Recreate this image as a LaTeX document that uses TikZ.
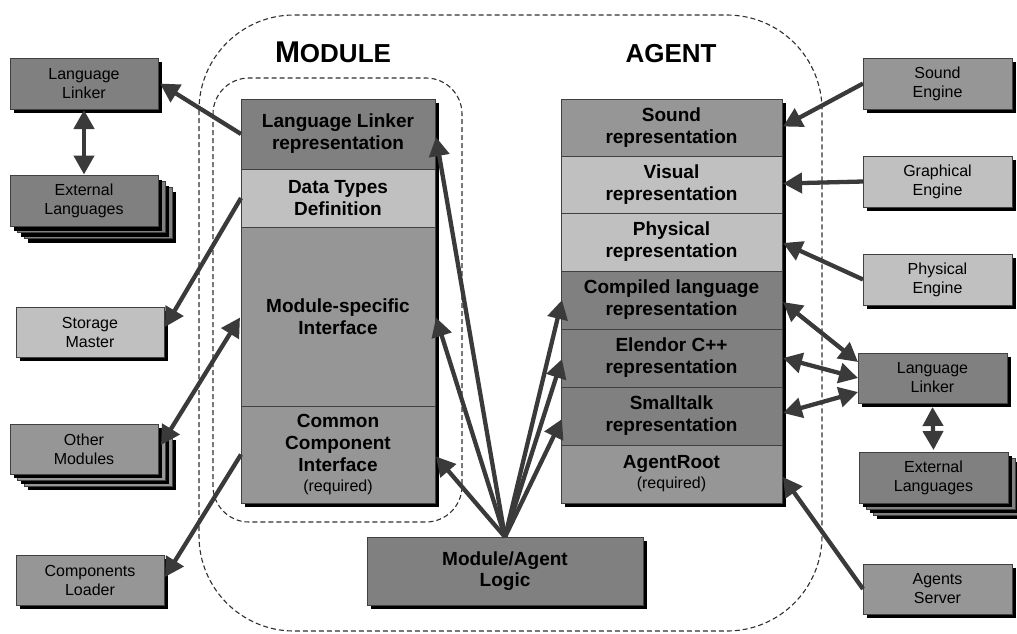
\documentclass[tikz,border=0pt]{standalone}
\usepackage{fontspec}
\setmainfont{Liberation Sans}
\usetikzlibrary{arrows.meta,shadows,calc}

\definecolor{cdark}{HTML}{808080}
\definecolor{cmid}{HTML}{969696}
\definecolor{clight}{HTML}{C0C0C0}
\definecolor{bordercol}{HTML}{404040}
\definecolor{cline}{HTML}{3A3A3A}
\definecolor{dashcol}{HTML}{303030}
\newcommand\reqfont{\mdseries\fontsize{16}{19}\selectfont}

\begin{document}
\begin{tikzpicture}[x=1pt,y=-1pt,
  boxbase/.style={draw=bordercol, line width=0.9pt, inner sep=0pt, outer sep=0pt, align=center},
  shadowed/.style={general shadow={fill=black, shadow xshift=4pt, shadow yshift=-4pt}},
  layered/.style={
    general shadow={fill=black, shadow xshift=18pt, shadow yshift=-16pt},
    general shadow={fill=#1, draw=bordercol, line width=0.9pt, shadow xshift=14pt, shadow yshift=-12pt},
    general shadow={fill=black, shadow xshift=11pt, shadow yshift=-10pt},
    general shadow={fill=#1, draw=bordercol, line width=0.9pt, shadow xshift=7pt, shadow yshift=-6pt}},
  sidefont/.style={font=\fontsize{16}{19}\selectfont},
  side/.style={boxbase, shadowed, sidefont, fill=#1, minimum width=148pt, minimum height=51pt},
  sidestack/.style={boxbase, layered=#1, shadowed, sidefont, fill=#1, minimum width=148pt, minimum height=51pt},
  row/.style={boxbase, shadowed, anchor=north west, font=\fontsize{19}{22}\selectfont\bfseries},
  dashline/.style={draw=dashcol, line width=1.1pt, dash pattern=on 5pt off 3pt},
  conn/.style={draw=cline, line width=4.3pt, -{Triangle[length=19pt,width=20pt]}},
  biconn/.style={draw=cline, line width=4.3pt, {Triangle[length=19pt,width=20pt]}-{Triangle[length=19pt,width=20pt]}}
]
\useasboundingbox (0,0) rectangle (1017,633);

% dashed outlines: whole component and module part
\draw[dashline, rounded corners=95pt] (199,15) rectangle (822,631);
\draw[dashline, rounded corners=36pt] (213,78) rectangle (462,522);

% titles
\node[anchor=base, font=\bfseries] (tmod) at (333,62)
  {{\fontsize{30}{30}\selectfont M}{\fontsize{26}{30}\selectfont ODULE}};
\node[anchor=base, font=\bfseries\fontsize{26}{30}\selectfont] (tagt) at (671,62) {AGENT};

% module stack
\node[row, fill=cdark,  minimum width=194pt, minimum height=70pt]  (mLL) at (241,99)  {Language Linker\\representation};
\node[row, fill=clight, minimum width=194pt, minimum height=58pt]  (mDT) at (241,169) {Data Types\\Definition};
\node[row, fill=cmid,   minimum width=194pt, minimum height=179pt] (mMS) at (241,227) {Module-specific\\Interface};
\node[row, fill=cmid,   minimum width=194pt, minimum height=97pt]  (mCC) at (241,406)
  {Common\\Component\\Interface\\[-2pt]{\reqfont (required)}};

% agent stack
\node[row, fill=cmid,   minimum width=221pt, minimum height=57pt] (aSR) at (561,99)  {Sound\\representation};
\node[row, fill=clight, minimum width=221pt, minimum height=57pt] (aVR) at (561,156) {Visual\\representation};
\node[row, fill=clight, minimum width=221pt, minimum height=58pt] (aPR) at (561,213) {Physical\\representation};
\node[row, fill=cdark,  minimum width=221pt, minimum height=58pt] (aCL) at (561,271) {Compiled language\\representation};
\node[row, fill=cdark,  minimum width=221pt, minimum height=58pt] (aEC) at (561,329) {Elendor C++\\representation};
\node[row, fill=cdark,  minimum width=221pt, minimum height=58pt] (aST) at (561,387) {Smalltalk\\representation};
\node[row, fill=cmid,   minimum width=221pt, minimum height=58pt] (aAR) at (561,445)
  {AgentRoot\\[-2pt]{\reqfont (required)}};

% logic
\node[boxbase, shadowed, fill=cdark, minimum width=276pt, minimum height=68pt,
      font=\fontsize{19}{21}\selectfont\bfseries] (logic) at (505,571) {Module/Agent\\Logic};

% left side
\node[side=cdark]       (lll) at (84,83.5)  {Language\\Linker};
\node[sidestack=cdark]  (lel) at (84,201)   {External\\Languages};
\node[side=clight, minimum height=50pt] (sm) at (90,332) {Storage\\Master};
\node[sidestack=cmid, minimum height=50pt] (om) at (84,449) {Other\\Modules};
\node[side=cmid, minimum height=50pt]   (cl) at (90,580) {Components\\Loader};

% right side
\node[side=cmid,   minimum width=149pt] (se)  at (937.5,83.5)  {Sound\\Engine};
\node[side=clight, minimum width=149pt] (ge)  at (937.5,181.5) {Graphical\\Engine};
\node[side=clight, minimum width=149pt] (pe)  at (937.5,279.5) {Physical\\Engine};
\node[side=cdark,  minimum width=149pt, minimum height=50pt] (rll) at (932.5,378) {Language\\Linker};
\node[sidestack=cdark, minimum width=149pt] (rel) at (933.5,477.5) {External\\Languages};
\node[side=cmid,   minimum width=149pt, minimum height=50pt] (as)  at (937.5,589) {Agents\\Server};

% module connections
\draw[conn]   (mLL.west) -- ($(lll.east)+(2,0)$);
\draw[biconn] ($(lll.south)+(0,1)$) -- ($(lel.north)+(0,-1)$);
\draw[conn]   (mDT.west) -- ($(sm.east)+(1,-5)$);
\draw[biconn] ($(om.east)+(3,-4)$) -- ($(mMS.west)+(-1,1)$);
\draw[conn]   (mCC.west) -- ($(cl.east)+(1,-3)$);

% logic fan
\draw[conn] (logic.north) -- ($(mLL.east)+(1,3)$);
\draw[conn] (logic.north) -- ($(mMS.east)+(1,1)$);
\draw[conn] (logic.north) -- ($(mCC.east)+(1,2)$);
\draw[conn] (logic.north) -- ($(aCL.west)+(1,0)$);
\draw[conn] (logic.north) -- ($(aEC.west)+(1,1)$);
\draw[conn] (logic.north) -- ($(aST.west)+(1,3)$);

% agent connections
\draw[conn]   (se.west) -- ($(aSR.east)+(1,-1)$);
\draw[conn]   (ge.west) -- ($(aVR.east)+(1,-1)$);
\draw[conn]   (pe.west) -- ($(aPR.east)+(1,1)$);
\draw[biconn] ($(aCL.east)+(1,2)$) -- ($(rll.west)+(0,-16)$);
\draw[biconn] ($(aEC.east)+(1,0)$) -- (rll.west);
\draw[biconn] ($(aST.east)+(1,-3)$) -- ($(rll.west)+(0,14)$);
\draw[biconn] ($(rll.south)+(0,4)$) -- ($(rel.north)+(0,-2)$);
\draw[conn]   (as.west) -- ($(aAR.east)+(1,3)$);
\end{tikzpicture}
\end{document}
